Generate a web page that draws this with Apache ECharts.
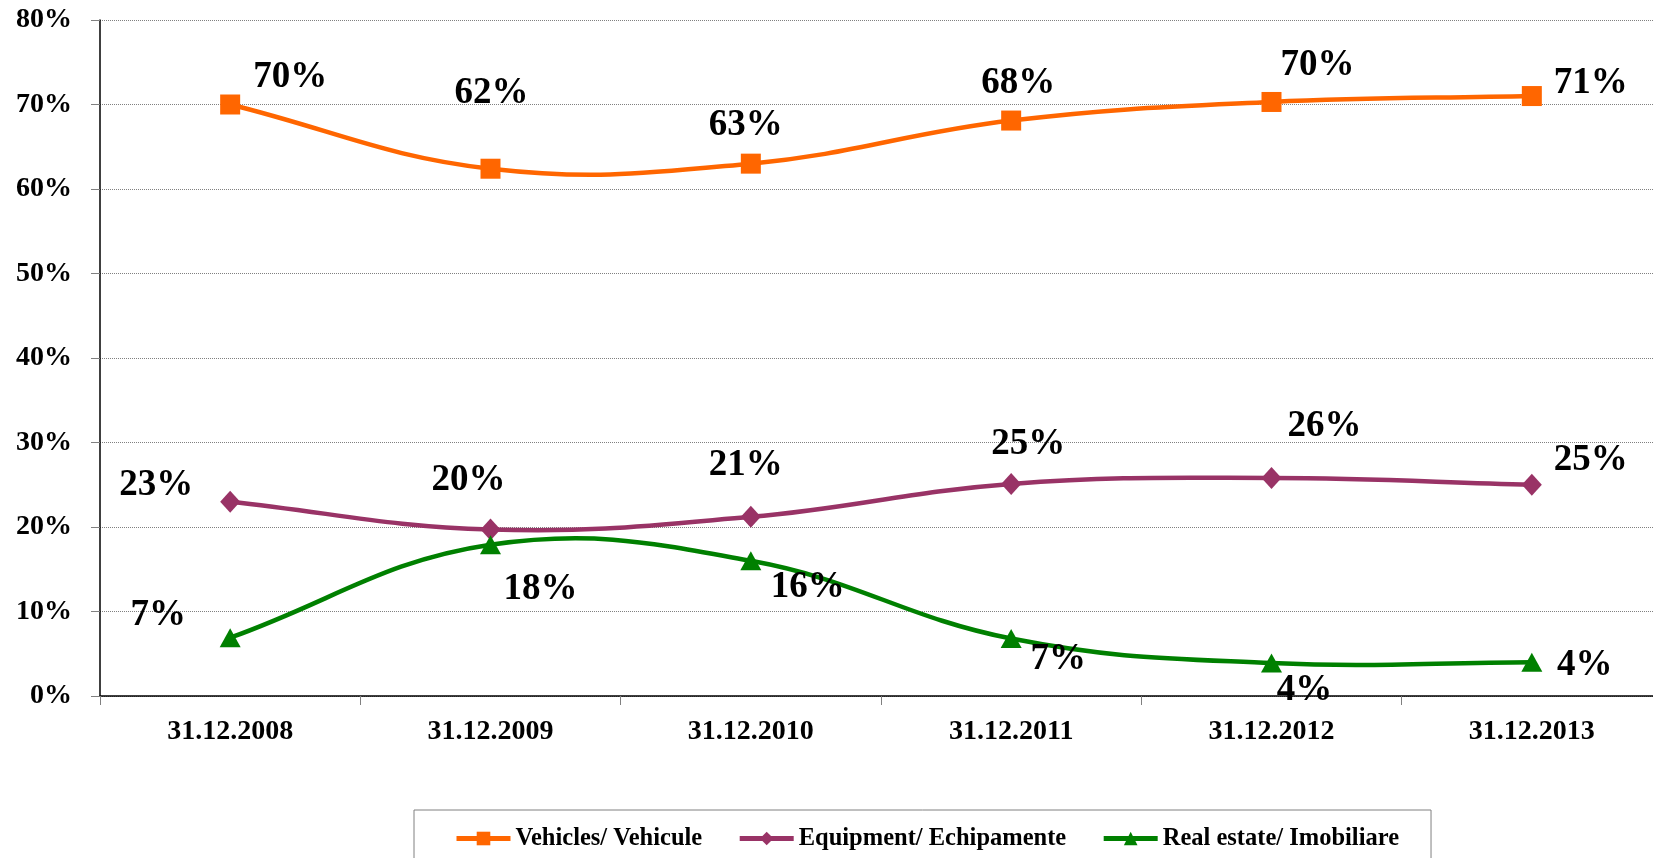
<!DOCTYPE html>
<html>
<head>
<meta charset="utf-8">
<script src="https://cdn.jsdelivr.net/npm/echarts@6/dist/echarts.min.js"></script>
<style>
html,body{margin:0;padding:0;background:#fff;overflow:hidden;}
#chart{width:1662px;height:858px;}
</style>
</head>
<body>
<div id="chart"></div>
<script>
const categories = ['31.12.2008','31.12.2009','31.12.2010','31.12.2011','31.12.2012','31.12.2013'];
const seriesNames = ['Vehicles/ Vehicule','Equipment/ Echipamente','Real estate/ Imobiliare'];
const vehicles = [70.0, 62.4, 63.0, 68.1, 70.3, 71.0];
const equipment = [23.0, 19.7, 21.2, 25.1, 25.8, 25.0];
const realEstate = [6.9, 17.9, 16.0, 6.8, 3.9, 4.0];
const yTicks = [0, 10, 20, 30, 40, 50, 60, 70, 80];

// label placement (layout only, pixels relative to each point)
const vehOff = [[60,-27],[1,-75],[-5,-38],[7,-37],[46,-37],[59,-13]];
const eqOff = [[-74,-16],[-22,-49],[-5,-51],[17,-39],[53,-52],[59,-24]];
const reOff = [[-72,-22],[50,45],[57,27],[47,21],[33,27],[53,3]];

const FONT = "'Liberation Serif','Times New Roman',serif";
const colors = ['#FF6600','#993366','#008000'];
const symbols = ['rect','diamond','triangle'];
const symSizes = [[20,20],[20,22],[21,19]];
const dataSets = [vehicles, equipment, realEstate];
const offs = [vehOff, eqOff, reOff];
const SMOOTH = 0.4;
const LINE_W = 4.5;

const chart = echarts.init(document.getElementById('chart'), null, {renderer:'canvas'});

// smooth curve (unclamped, so it may overshoot like the original) drawn in pixel space
function curvePath(pts) {
  let d = 'M' + pts[0][0] + ',' + pts[0][1];
  const n = pts.length;
  const cps = pts.map((p, i) => {
    const prev = pts[Math.max(i - 1, 0)];
    const next = pts[Math.min(i + 1, n - 1)];
    const vx = next[0] - prev[0], vy = next[1] - prev[1];
    const l0 = Math.hypot(p[0] - prev[0], p[1] - prev[1]);
    const l1 = Math.hypot(next[0] - p[0], next[1] - p[1]);
    const r = (l0 + l1) > 0 ? l1 / (l0 + l1) : 0.5;
    return {
      before: [p[0] - vx * SMOOTH * (1 - r), p[1] - vy * SMOOTH * (1 - r)],
      after: [p[0] + vx * SMOOTH * r, p[1] + vy * SMOOTH * r]
    };
  });
  for (let i = 0; i < n - 1; i++) {
    const a = cps[i].after, b = cps[i + 1].before, q = pts[i + 1];
    d += ' C' + a[0] + ',' + a[1] + ' ' + b[0] + ',' + b[1] + ' ' + q[0] + ',' + q[1];
  }
  return d;
}

const curveSeries = dataSets.map((arr, s) => ({
  type: 'custom',
  coordinateSystem: 'cartesian2d',
  silent: true,
  data: [[0, arr[0]]],
  z: 2,
  renderItem: (params, api) => {
    const pts = arr.map((v, i) => api.coord([i, v]));
    return {
      type: 'path',
      shape: { pathData: curvePath(pts) },
      style: { fill: 'none', stroke: colors[s], lineWidth: LINE_W, lineJoin: 'round' }
    };
  }
}));

const series = dataSets.map((arr, s) => ({
  name: seriesNames[s],
  type: 'line',
  data: arr.map((v, i) => ({
    value: v,
    label: { offset: offs[s][i] }
  })),
  symbol: symbols[s],
  symbolSize: symSizes[s],
  itemStyle: { color: colors[s] },
  lineStyle: { color: colors[s], width: 0, opacity: 0 },
  label: {
    show: true,
    position: 'inside',
    align: 'center',
    verticalAlign: 'middle',
    formatter: p => Math.round(p.value) + '%',
    fontFamily: FONT,
    fontWeight: 'bold',
    fontSize: 37,
    color: '#000'
  },
  emphasis: { disabled: true },
  z: 3 + s
}));

chart.setOption({
  animation: false,
  backgroundColor: '#fff',
  grid: { left: 100, right: 0, top: 20, bottom: 162, containLabel: false },
  legend: {
    data: seriesNames,
    left: 414,
    top: 810,
    orient: 'horizontal',
    itemWidth: 54,
    itemHeight: 17,
    itemGap: 35,
    padding: [16, 32, 60, 40],
    borderColor: '#808080',
    borderWidth: 1,
    lineStyle: { width: 5, opacity: 1 },
    textStyle: { fontFamily: FONT, fontWeight: 'bold', fontSize: 24.5, color: '#000' },
    selectedMode: false
  },
  xAxis: {
    type: 'category',
    data: categories,
    boundaryGap: true,
    axisLine: { show: true, lineStyle: { color: '#000', width: 1.5 } },
    axisTick: { show: true, length: 9, inside: false, lineStyle: { color: '#808080', width: 1 } },
    axisLabel: { fontFamily: FONT, fontWeight: 'bold', fontSize: 28, color: '#000', margin: 22 },
    splitLine: { show: false }
  },
  yAxis: {
    type: 'value',
    min: yTicks[0],
    max: yTicks[yTicks.length - 1],
    interval: yTicks[1] - yTicks[0],
    axisLine: { show: true, lineStyle: { color: '#000', width: 1.5 } },
    axisTick: { show: true, length: 9, lineStyle: { color: '#808080', width: 1 } },
    axisLabel: { formatter: '{value}%', fontFamily: FONT, fontWeight: 'bold', fontSize: 28, color: '#000', margin: 28, padding: [5, 0, 0, 0] },
    splitLine: { show: true, lineStyle: { color: '#808080', type: 'dotted', width: 1 } }
  },
  series: curveSeries.concat(series)
});
</script>
</body>
</html>
